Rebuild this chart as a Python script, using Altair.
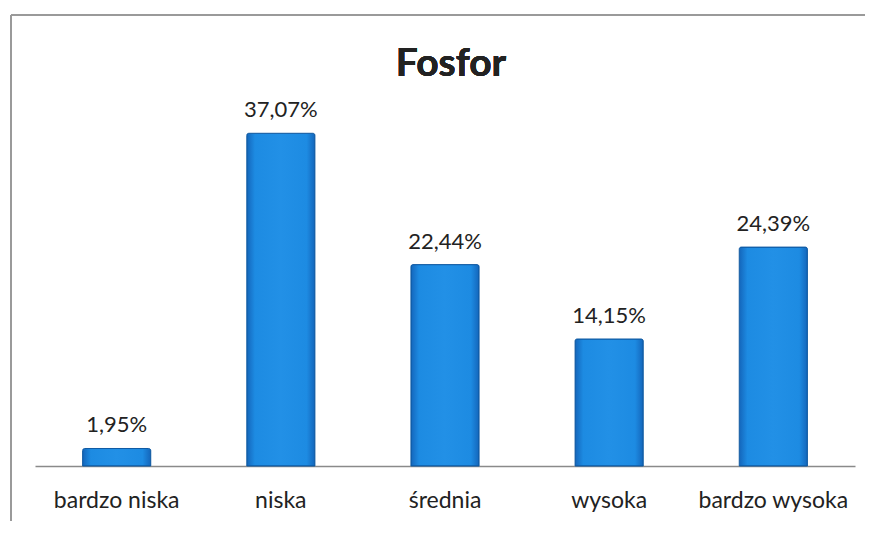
import altair as alt
import pandas as pd

categories = ["bardzo niska", "niska", "średnia", "wysoka", "bardzo wysoka"]
values = [1.95, 37.07, 22.44, 14.15, 24.39]
labels = ["1,95%", "37,07%", "22,44%", "14,15%", "24,39%"]
title_text = "Fosfor"

df = pd.DataFrame({"kat": categories, "val": values, "lab": labels})

FONT = "Lato"

x = alt.X("kat:N", sort=categories,
          scale=alt.Scale(paddingInner=0.585, paddingOuter=0.29),
          axis=alt.Axis(title=None, labelAngle=0, labelFont=FONT, labelFontSize=23,
                        labelColor="#222222", labelPadding=23, ticks=False,
                        domainColor="#8a8a8a", domainWidth=1.5))
y = alt.Y("val:Q", scale=alt.Scale(domain=[0, 40], nice=False, zero=True), axis=None)

grad = alt.Gradient(gradient="linear", x1=0, x2=1, y1=0, y2=0,
                    stops=[alt.GradientStop(color="#1466bb", offset=0),
                           alt.GradientStop(color="#1d8be2", offset=0.12),
                           alt.GradientStop(color="#2290e6", offset=0.5),
                           alt.GradientStop(color="#1d8be2", offset=0.88),
                           alt.GradientStop(color="#1466bb", offset=1)])

bars = alt.Chart(df).mark_bar(color=grad, stroke="#0f5aa3", strokeWidth=1,
                              cornerRadiusTopLeft=2, cornerRadiusTopRight=2).encode(x=x, y=y)

text = alt.Chart(df).mark_text(font=FONT, fontSize=22, color="#222222",
                               baseline="alphabetic", dy=-16).encode(
    x=alt.X("kat:N", sort=categories), y="val:Q", text="lab:N")

title = alt.Chart(df).mark_text(font=FONT, fontSize=39, fontWeight="bold", color="#222222",
                                baseline="alphabetic", align="center").encode(
    x=alt.value(416), y=alt.value(-31), text=alt.value(title_text))

border_left = alt.Chart(df).mark_rule(color="#9a9a9a", strokeWidth=1.5).encode(
    x=alt.value(-24), y=alt.value(-92), y2=alt.value(420))
border_top = alt.Chart(df).mark_rule(color="#9a9a9a", strokeWidth=1.5).encode(
    x=alt.value(-24), x2=alt.value(835), y=alt.value(-92))

chart = alt.layer(border_left, border_top, bars, text, title).properties(
    width=820, height=359,
    autosize=alt.AutoSizeParams(type="none"),
    padding={"left": 27, "top": 99, "right": 10, "bottom": 55},
    background="white",
).configure_view(stroke=None, strokeWidth=0)

chart.save("out.html", embed_options={"renderer": "svg", "actions": False})
